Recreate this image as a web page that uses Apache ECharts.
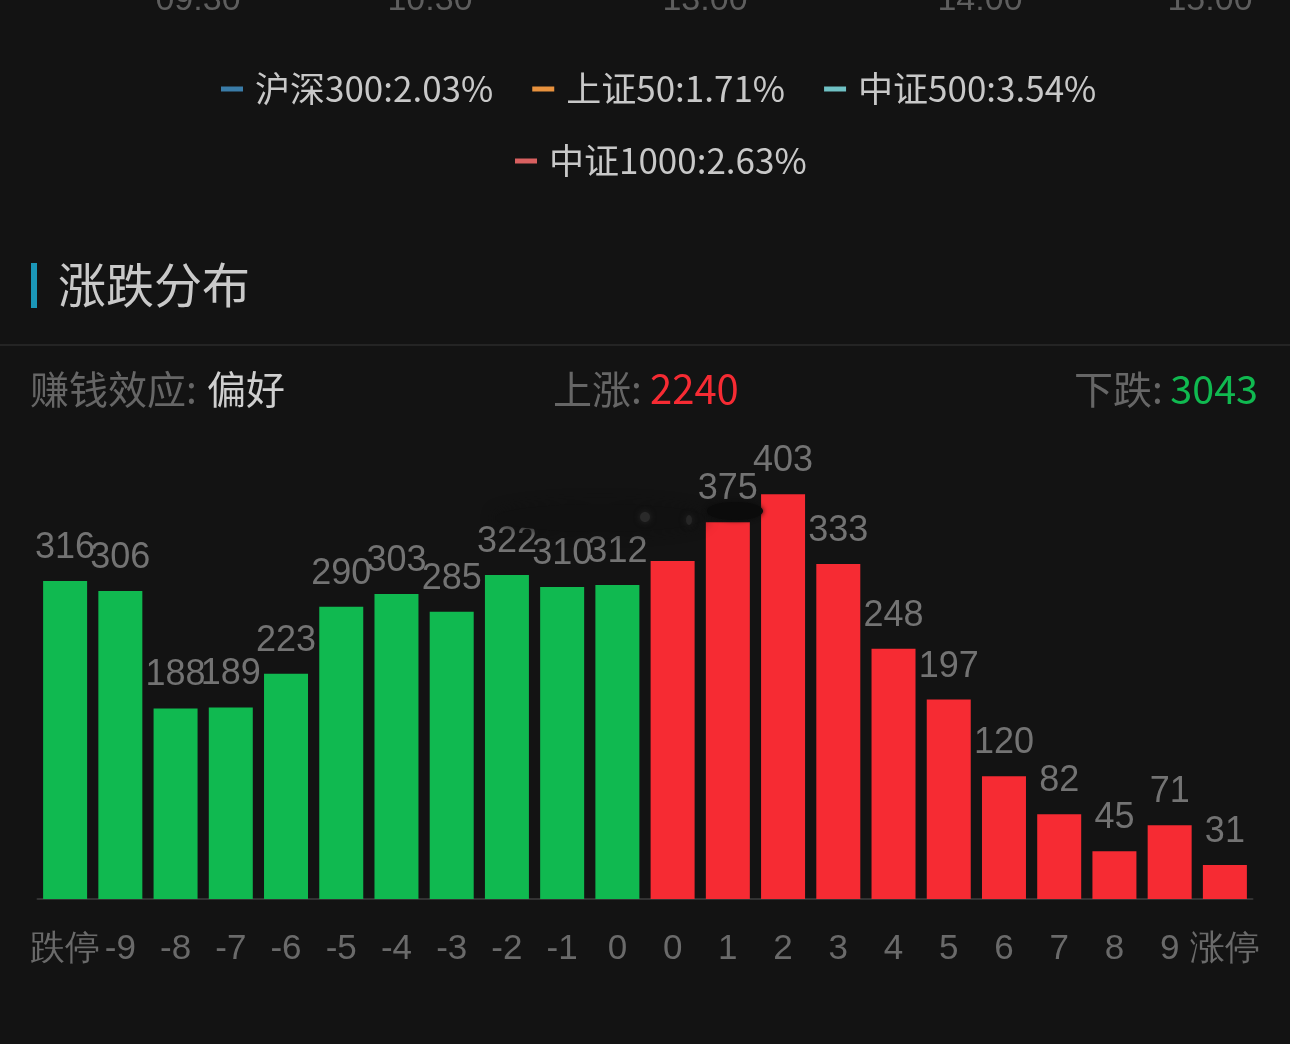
<!DOCTYPE html>
<html>
<head>
<meta charset="utf-8">
<style>
html, body { margin: 0; padding: 0; background: #131313; }
#chart { width: 1290px; height: 1044px; }
</style>
<script src="https://cdn.jsdelivr.net/npm/echarts@6/dist/echarts.min.js"></script>
</head>
<body>
<div id="chart"></div>
<script>
var categories = ['跌停', '-9', '-8', '-7', '-6', '-5', '-4', '-3', '-2', '-1', '0', '0', '1', '2', '3', '4', '5', '6', '7', '8', '9', '涨停'];
var counts = [316, 306, 188, 189, 223, 290, 303, 285, 322, 310, 312, 336, 375, 403, 333, 248, 197, 120, 82, 45, 71, 31];
var fallingBars = 11;
var smudgedLabels = [11]; // this label is scribbled out in the picture
var indexNames = ['沪深300:2.03%', '上证50:1.71%', '中证500:3.54%', '中证1000:2.63%'];
var indexColors = ['#3a7ca8', '#e8923e', '#6fc1c4', '#d86060'];
var timeLabels = ['09:30', '10:30', '13:00', '14:00', '15:00'];
var timeCenters = [198, 430, 705, 980, 1210];

var FONT = '"Noto Sans CJK SC", "Noto Sans", sans-serif';
var NUM_FONT = '"Liberation Sans", Arial, sans-serif';
var GREEN = '#10b950';
var RED = '#f62b33';
var BAR_FOOT = -3; // bars in the picture carry a small stub under zero

function text(x, y, str, size, color, align, family) {
    return {
        type: 'text', x: x, y: y, z: 5,
        style: {
            text: str, fontSize: size, fill: color, fontFamily: family || FONT,
            align: align || 'left', verticalAlign: 'middle'
        }
    };
}

function smudge(cx, cy, rx, ry, color, blur) {
    return {
        type: 'ellipse', z: 20,
        shape: {cx: cx, cy: cy, rx: rx, ry: ry},
        style: {fill: color, shadowBlur: blur, shadowColor: color}
    };
}

function legendRow(left, top, names) {
    return {
        top: top,
        left: left,
        padding: 0,
        itemWidth: 22,
        itemHeight: 5,
        itemGap: 39,
        icon: 'rect',
        textStyle: {color: '#c8c8c8', fontSize: 35, fontFamily: FONT, lineHeight: 50, padding: [0, 0, 0, 7]},
        data: names
    };
}

function barColor(i) {
    return i < fallingBars ? GREEN : RED;
}

var graphics = [
    {type: 'rect', shape: {x: 31, y: 263, width: 6, height: 45}, style: {fill: '#1b97b8'}},
    {type: 'rect', shape: {x: 0, y: 344, width: 1290, height: 2}, style: {fill: '#242424'}},
    text(58, 285, '涨跌分布', 48, '#c9c9c9'),
    text(30, 389, '赚钱效应:', 39, '#666666'),
    text(207, 389, '偏好', 39, '#cfcfcf'),
    text(553, 389, '上涨:', 39, '#666666'),
    text(650, 389, '2240', 40, RED),
    text(1074, 389, '下跌:', 39, '#666666'),
    text(1258, 389, '3043', 39.5, GREEN, 'right'),
    smudge(600, 518, 105, 14, '#111111', 14),
    smudge(735, 511, 28, 9, '#0b0b0b', 5),
    smudge(645, 517, 5, 5, '#2a2a2a', 6),
    smudge(689, 520, 3, 5, '#262626', 6)
];
timeLabels.forEach(function (t, i) {
    graphics.push(text(timeCenters[i], 1, t, 34, '#5e5e5e', 'center', NUM_FONT));
});

var chart = echarts.init(document.getElementById('chart'));

chart.setOption({
    backgroundColor: '#131313',
    animation: false,
    graphic: graphics,
    legend: [legendRow(221, 64, indexNames.slice(0, 3)), legendRow(515, 136, indexNames.slice(3))],
    grid: {left: 37.5, right: 37.5, top: 397.5, bottom: 145},
    xAxis: {
        type: 'category',
        data: categories,
        axisLine: {onZero: false, lineStyle: {color: '#333333', width: 2}},
        axisTick: {show: false},
        axisLabel: {
            color: '#6a6a6a', fontSize: 35, fontFamily: NUM_FONT, margin: 33,
            interval: 0, hideOverlap: false,
            formatter: function (v) { return v; }
        }
    },
    yAxis: {type: 'value', min: BAR_FOOT, max: 500, show: false, splitLine: {show: false}},
    series: indexNames.map(function (name, i) {
        return {
            name: name, type: 'line', data: [], symbol: 'rect',
            itemStyle: {color: indexColors[i]}, lineStyle: {color: indexColors[i]}
        };
    }).concat([{
        type: 'bar',
        barWidth: 44,
        barGap: '-100%',
        data: counts.map(function (v, i) {
            return {
                value: v,
                itemStyle: {color: barColor(i)},
                label: {show: smudgedLabels.indexOf(i) < 0}
            };
        }),
        label: {
            show: true, position: 'top', distance: 15,
            color: '#737373', fontSize: 36, fontFamily: NUM_FONT
        }
    }, {
        type: 'bar',
        barWidth: 44,
        silent: true,
        data: counts.map(function (v, i) {
            return {value: BAR_FOOT, itemStyle: {color: barColor(i)}};
        })
    }])
});

window.onresize = function () {
    chart.resize();
};
</script>
</body>
</html>
